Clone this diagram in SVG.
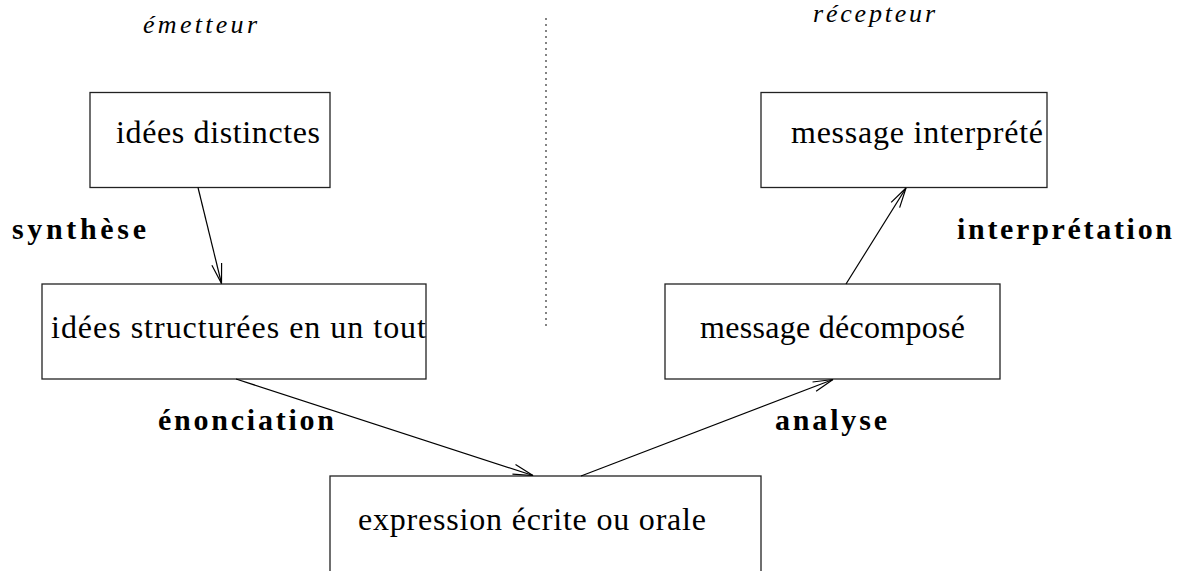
<svg xmlns="http://www.w3.org/2000/svg" width="1185" height="571" viewBox="0 0 1185 571">
  <defs>
    <marker id="open-arrow" markerUnits="userSpaceOnUse" markerWidth="30" markerHeight="20" refX="0" refY="0" viewBox="-22 -10 24 20" orient="auto" overflow="visible">
      <path d="M-20,-5 L0,0 L-20,5" fill="none" stroke="#000" stroke-width="1.2"/>
    </marker>
  </defs>
  <style>
    .box { fill: #fff; stroke: #222; stroke-width: 1.3; }
    text { font-family: 'Liberation Serif', 'Times New Roman', 'DejaVu Serif', serif; fill: #000; }
    .txt { font-size: 32px; }
    .side { font-style: italic; font-size: 26px; }
    .lbl { font-weight: bold; font-size: 30px; }
    .edge { fill: none; stroke: #000; stroke-width: 1.2; marker-end: url(#open-arrow); }
    .sep { fill: none; stroke: #333; stroke-width: 1.2; stroke-dasharray: 2 4; }
  </style>
  <rect width="1185" height="571" fill="#fff"/>

  <!-- sender / receiver headings and separator -->
  <g id="headings">
    <text class="side" x="143" y="33" textLength="114" lengthAdjust="spacing">émetteur</text>
    <text class="side" x="813" y="22" textLength="122" lengthAdjust="spacing">récepteur</text>
    <line class="sep" x1="546" y1="18" x2="546" y2="330"/>
  </g>

  <!-- process labels -->
  <g id="labels">
    <text class="lbl" x="12" y="239" textLength="134" lengthAdjust="spacing">synthèse</text>
    <text class="lbl" x="957" y="239" textLength="215" lengthAdjust="spacing">interprétation</text>
    <text class="lbl" x="158" y="430" textLength="176" lengthAdjust="spacing">énonciation</text>
    <text class="lbl" x="775" y="430" textLength="112" lengthAdjust="spacing">analyse</text>
  </g>

  <g id="node-idees-distinctes">
    <rect class="box" x="90" y="92.5" width="240" height="95"/>
    <text class="txt" x="116" y="143" textLength="204" lengthAdjust="spacing">idées distinctes</text>
  </g>

  <g id="node-message-interprete">
    <rect class="box" x="761" y="92.5" width="286" height="95"/>
    <text class="txt" x="791" y="143" textLength="252" lengthAdjust="spacing">message interprété</text>
  </g>

  <g id="node-idees-structurees">
    <rect class="box" x="42" y="284" width="384" height="95"/>
    <text class="txt" x="51" y="338" textLength="375" lengthAdjust="spacing">idées structurées en un tout</text>
  </g>

  <g id="node-message-decompose">
    <rect class="box" x="665" y="284" width="335" height="95"/>
    <text class="txt" x="700" y="338" textLength="265" lengthAdjust="spacing">message décomposé</text>
  </g>

  <g id="node-expression">
    <rect class="box" x="330" y="476" width="431" height="110"/>
    <text class="txt" x="358" y="530" textLength="348" lengthAdjust="spacing">expression écrite ou orale</text>
  </g>

  <!-- connectors -->
  <g id="connectors">
    <line class="edge" x1="198" y1="187.5" x2="221.5" y2="283.5"/>
    <line class="edge" x1="236" y1="379" x2="533" y2="475.5"/>
    <line class="edge" x1="581" y1="476" x2="833" y2="379.5"/>
    <line class="edge" x1="846" y1="284" x2="906" y2="188"/>
  </g>
</svg>
